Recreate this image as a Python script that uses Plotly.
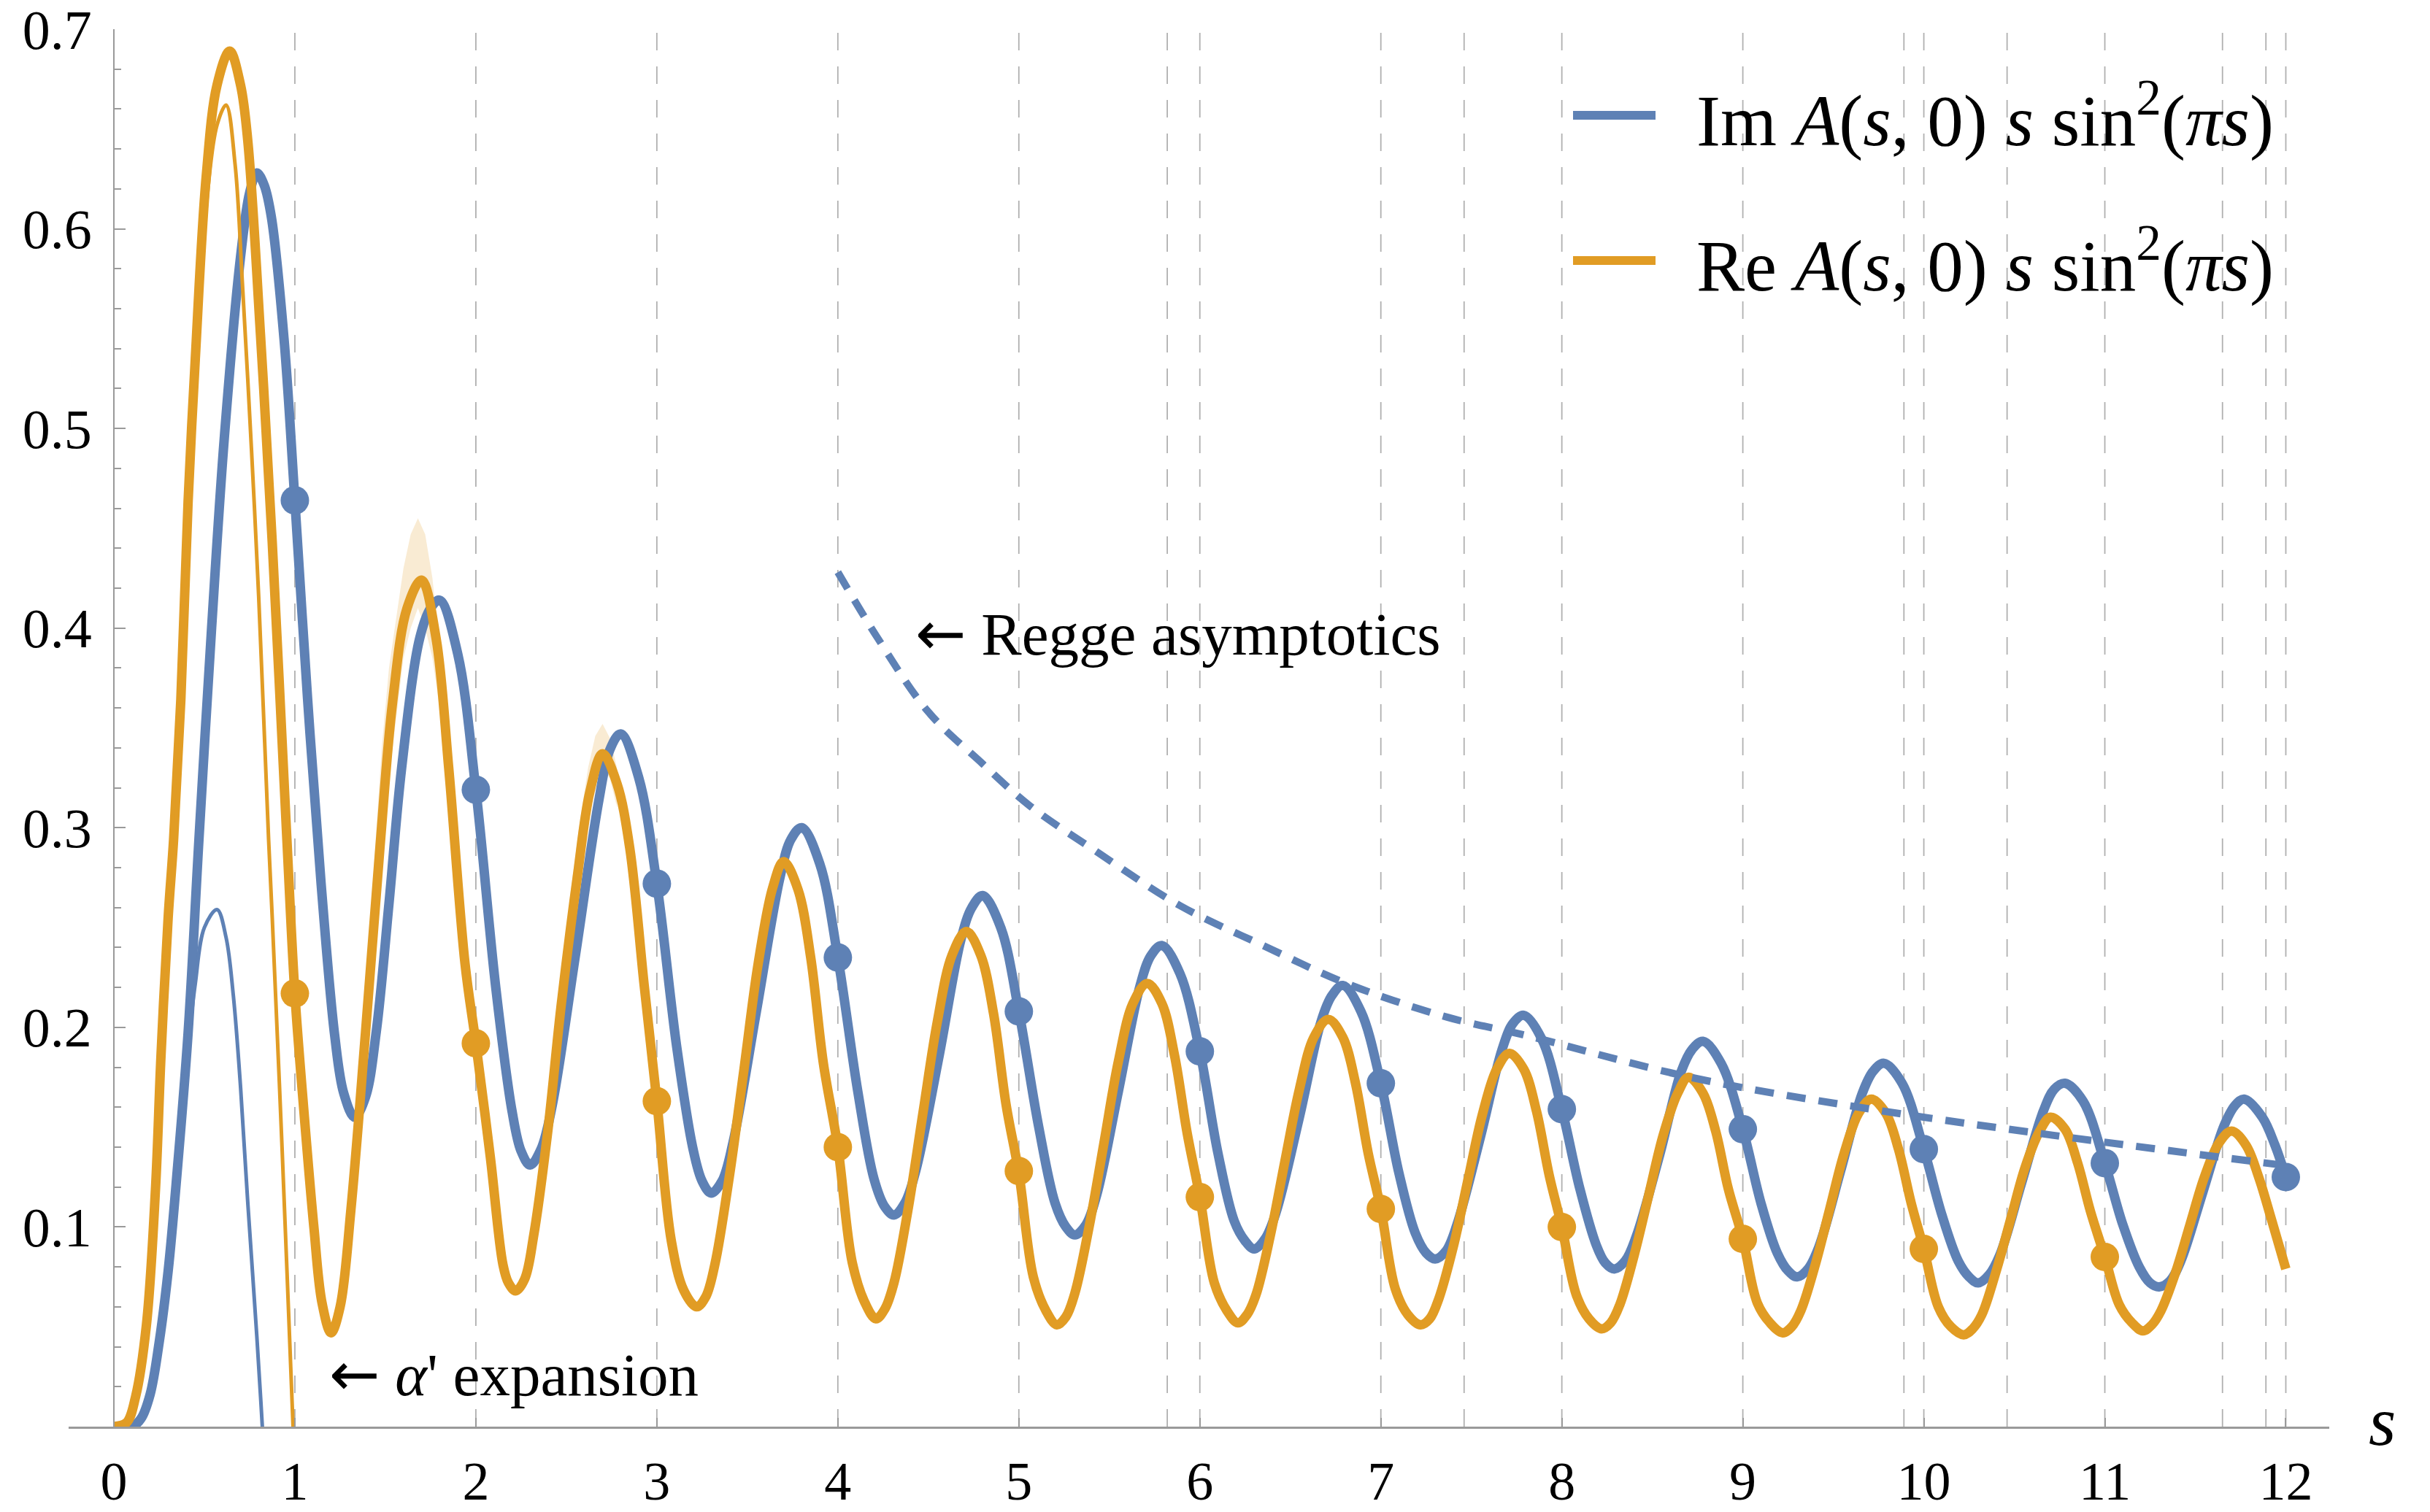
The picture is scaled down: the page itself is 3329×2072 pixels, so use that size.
import plotly.graph_objects as go

BLUE = "#5E81B5"
ORANGE = "#E19C24"
BAND = "rgba(225,156,36,0.20)"
AXIS = "#9a9a9a"
GRID = "#b0b0b0"
FONT = "Liberation Serif, Times New Roman, DejaVu Serif, serif"

# ---------------- data ----------------
# Im A(s,0) s sin^2(pi s)
im_s = [0.00, 0.10, 0.15, 0.20, 0.25, 0.30, 0.35, 0.41, 0.47, 0.54, 0.61, 0.70, 0.75, 0.79, 0.83, 0.87, 0.94,
        1.00, 1.07, 1.145, 1.22, 1.27, 1.33, 1.39, 1.45, 1.52, 1.59, 1.69, 1.75, 1.80,
        1.90, 2.00, 2.11, 2.20, 2.25, 2.30, 2.36, 2.42, 2.55, 2.68, 2.74, 2.80,
        2.90, 3.00, 3.11, 3.20, 3.25, 3.30, 3.36, 3.42, 3.55, 3.68, 3.74, 3.80,
        3.90, 4.00, 4.11, 4.20, 4.26, 4.31, 4.37, 4.43, 4.56, 4.68, 4.74, 4.80,
        4.90, 5.00, 5.11, 5.20, 5.26, 5.31, 5.37, 5.43, 5.55, 5.67, 5.73, 5.79,
        5.89, 6.00, 6.10, 6.19, 6.25, 6.30, 6.36, 6.42, 6.55, 6.67, 6.73, 6.79,
        6.89, 7.00, 7.10, 7.19, 7.25, 7.30, 7.36, 7.42, 7.55, 7.67, 7.73, 7.79,
        7.89, 8.00, 8.10, 8.19, 8.24, 8.29, 8.35, 8.41, 8.54, 8.66, 8.72, 8.78,
        8.88, 9.00, 9.10, 9.19, 9.25, 9.30, 9.36, 9.42, 9.54, 9.66, 9.72, 9.78,
        9.88, 10.00, 10.10, 10.19, 10.25, 10.30, 10.36, 10.42, 10.54, 10.66, 10.72, 10.78,
        10.88, 11.00, 11.10, 11.19, 11.25, 11.30, 11.36, 11.42, 11.54, 11.66, 11.72, 11.77,
        11.87, 11.94, 12.00]
im_v = [0.000, 0.000, 0.004, 0.016, 0.042, 0.078, 0.128, 0.197, 0.294, 0.400, 0.495, 0.586, 0.618, 0.628, 0.622, 0.606, 0.545,
        0.464, 0.365, 0.272, 0.196, 0.167, 0.155, 0.165, 0.198, 0.262, 0.330, 0.395, 0.410, 0.414,
        0.387, 0.319, 0.220, 0.158, 0.138, 0.131, 0.139, 0.160, 0.236, 0.314, 0.339, 0.347,
        0.325, 0.272, 0.190, 0.139, 0.123, 0.117, 0.123, 0.142, 0.208, 0.275, 0.294, 0.300,
        0.282, 0.235, 0.168, 0.124, 0.110, 0.106, 0.112, 0.128, 0.186, 0.244, 0.260, 0.266,
        0.250, 0.208, 0.150, 0.112, 0.100, 0.096, 0.101, 0.116, 0.168, 0.221, 0.236, 0.241,
        0.227, 0.188, 0.137, 0.103, 0.093, 0.089, 0.094, 0.107, 0.155, 0.203, 0.216, 0.221,
        0.208, 0.172, 0.127, 0.097, 0.087, 0.084, 0.088, 0.101, 0.145, 0.189, 0.202, 0.206,
        0.194, 0.159, 0.119, 0.091, 0.082, 0.079, 0.083, 0.095, 0.136, 0.178, 0.189, 0.193,
        0.182, 0.149, 0.112, 0.087, 0.078, 0.075, 0.079, 0.090, 0.128, 0.167, 0.178, 0.182,
        0.172, 0.139, 0.106, 0.083, 0.075, 0.072, 0.076, 0.086, 0.122, 0.158, 0.169, 0.172,
        0.163, 0.132, 0.101, 0.080, 0.072, 0.070, 0.073, 0.083, 0.117, 0.151, 0.161, 0.164,
        0.155, 0.141, 0.125]

# Re A(s,0) s sin^2(pi s)
re_s = [0.00, 0.07, 0.12, 0.18, 0.23, 0.26, 0.30, 0.33, 0.37, 0.41, 0.45, 0.51, 0.57, 0.64, 0.70, 0.74,
        0.81, 0.875, 0.956, 1.00, 1.05, 1.105, 1.15, 1.20, 1.25, 1.31, 1.39, 1.47, 1.54, 1.62, 1.70,
        1.78, 1.85, 1.94, 2.00, 2.08, 2.15, 2.18, 2.22, 2.27, 2.32, 2.40, 2.47, 2.56, 2.63, 2.70,
        2.78, 2.85, 2.93, 3.00, 3.08, 3.15, 3.22, 3.27, 3.32, 3.40, 3.48, 3.56, 3.64, 3.70,
        3.78, 3.85, 3.92, 4.00, 4.08, 4.15, 4.21, 4.26, 4.31, 4.39, 4.47, 4.55, 4.63, 4.71,
        4.79, 4.86, 4.93, 5.00, 5.08, 5.15, 5.21, 5.26, 5.31, 5.39, 5.47, 5.55, 5.63, 5.71,
        5.79, 5.86, 5.93, 6.00, 6.08, 6.15, 6.21, 6.26, 6.31, 6.39, 6.47, 6.55, 6.63, 6.71,
        6.79, 6.86, 6.93, 7.00, 7.08, 7.15, 7.22, 7.27, 7.32, 7.40, 7.48, 7.56, 7.64, 7.71,
        7.79, 7.86, 7.93, 8.00, 8.08, 8.15, 8.22, 8.27, 8.32, 8.40, 8.48, 8.56, 8.64, 8.70,
        8.78, 8.85, 8.92, 9.00, 9.08, 9.15, 9.22, 9.27, 9.32, 9.40, 9.48, 9.56, 9.64, 9.71,
        9.79, 9.86, 9.93, 10.00, 10.08, 10.15, 10.22, 10.27, 10.32, 10.40, 10.48, 10.56, 10.64, 10.70,
        10.78, 10.85, 10.92, 11.00, 11.08, 11.15, 11.21, 11.26, 11.31, 11.39, 11.47, 11.55, 11.63, 11.70,
        11.78, 11.85, 11.92, 12.00]
re_v = [0.000, 0.002, 0.015, 0.051, 0.119, 0.185, 0.255, 0.294, 0.364, 0.463, 0.535, 0.626, 0.672, 0.689, 0.672, 0.644,
        0.547, 0.443, 0.294, 0.217, 0.158, 0.100, 0.062, 0.047, 0.060, 0.109, 0.197, 0.290, 0.363, 0.410, 0.424,
        0.395, 0.330, 0.232, 0.192, 0.135, 0.081, 0.072, 0.068, 0.074, 0.096, 0.150, 0.210, 0.275, 0.318, 0.337,
        0.322, 0.290, 0.221, 0.163, 0.093, 0.068, 0.060, 0.065, 0.081, 0.125, 0.178, 0.232, 0.270, 0.283,
        0.269, 0.235, 0.182, 0.140, 0.082, 0.062, 0.054, 0.059, 0.072, 0.110, 0.157, 0.203, 0.236, 0.248,
        0.236, 0.207, 0.161, 0.127, 0.075, 0.058, 0.051, 0.055, 0.067, 0.101, 0.142, 0.183, 0.212, 0.222,
        0.212, 0.186, 0.147, 0.115, 0.072, 0.058, 0.052, 0.056, 0.066, 0.096, 0.133, 0.169, 0.195, 0.204,
        0.195, 0.172, 0.137, 0.109, 0.069, 0.056, 0.051, 0.054, 0.064, 0.090, 0.123, 0.156, 0.179, 0.187,
        0.179, 0.158, 0.126, 0.100, 0.066, 0.054, 0.049, 0.052, 0.061, 0.086, 0.116, 0.146, 0.167, 0.175,
        0.167, 0.148, 0.119, 0.094, 0.062, 0.052, 0.047, 0.050, 0.058, 0.081, 0.109, 0.137, 0.157, 0.164,
        0.157, 0.139, 0.112, 0.089, 0.060, 0.050, 0.046, 0.049, 0.056, 0.078, 0.104, 0.130, 0.148, 0.155,
        0.149, 0.132, 0.108, 0.085, 0.061, 0.052, 0.048, 0.051, 0.058, 0.077, 0.101, 0.125, 0.142, 0.148,
        0.141, 0.125, 0.104, 0.079]

# uncertainty band of the Re curve (visible near the 2nd and 3rd peaks)
band1_s = [1.40, 1.44, 1.48, 1.52, 1.56, 1.60, 1.64, 1.68, 1.72, 1.76, 1.80]
band1_hi = [0.225, 0.285, 0.340, 0.380, 0.405, 0.430, 0.447, 0.455, 0.447, 0.425, 0.390]
band1_lo = [0.190, 0.235, 0.280, 0.325, 0.355, 0.385, 0.400, 0.410, 0.400, 0.385, 0.360]
band2_s = [2.52, 2.57, 2.62, 2.66, 2.70, 2.74, 2.78]
band2_hi = [0.265, 0.300, 0.330, 0.346, 0.352, 0.345, 0.330]
band2_lo = [0.240, 0.275, 0.310, 0.328, 0.330, 0.325, 0.310]

# alpha' expansion (thin curves)
aim_s = [0.00, 0.10, 0.15, 0.20, 0.25, 0.30, 0.35, 0.41, 0.45, 0.50, 0.57, 0.62, 0.66, 0.70, 0.74, 0.79, 0.83, 0.87]
aim_v = [0.000, 0.000, 0.004, 0.016, 0.042, 0.078, 0.128, 0.190, 0.222, 0.250, 0.259, 0.245, 0.216, 0.170, 0.112,
         0.045, -0.015, -0.080]
are_s = [0.00, 0.07, 0.12, 0.18, 0.23, 0.28, 0.34, 0.40, 0.46, 0.52, 0.57, 0.62, 0.67, 0.71, 0.76, 0.80, 0.855,
         0.875, 0.93, 0.99, 1.03]
are_v = [0.000, 0.002, 0.015, 0.051, 0.119, 0.220, 0.330, 0.440, 0.545, 0.620, 0.652, 0.662, 0.632, 0.573, 0.490,
         0.416, 0.294, 0.255, 0.138, 0.000, -0.090]

# Regge asymptotics (dashed)
regge_s = [4.00, 4.22, 4.50, 4.80, 5.06, 5.43, 5.89, 6.35, 6.81, 7.37, 7.80, 8.71, 9.71, 10.71, 11.98]
regge_v = [0.428, 0.395, 0.358, 0.332, 0.311, 0.288, 0.261, 0.241, 0.222, 0.205, 0.196, 0.175, 0.159, 0.146, 0.131]

# exact points at integer s
im_dot_s = [1, 2, 3, 4, 5, 6, 7, 8, 9, 10, 11, 12]
im_dot_v = [0.464, 0.319, 0.272, 0.235, 0.208, 0.188, 0.172, 0.159, 0.149, 0.139, 0.132, 0.125]
re_dot_s = [1, 2, 3, 4, 5, 6, 7, 8, 9, 10, 11]
re_dot_v = [0.217, 0.192, 0.163, 0.140, 0.128, 0.115, 0.109, 0.100, 0.094, 0.089, 0.085]

# vertical dashed reference lines
grid_s = [1, 2, 3, 4, 5, 5.82, 6, 7, 7.46, 8, 9, 9.89, 10, 10.46, 11, 11.65, 11.89, 12]

x_ticks = list(range(13))
y_ticks = [0.1, 0.2, 0.3, 0.4, 0.5, 0.6, 0.7]
x_range = [-0.25, 12.24]
y_range = [0.0, 0.7]

legend_labels = ["Im <i>A</i>(<i>s</i>, 0) <i>s</i> sin<sup>2</sup>(<i>πs</i>)",
                 "Re <i>A</i>(<i>s</i>, 0) <i>s</i> sin<sup>2</sup>(<i>πs</i>)"]
ARROW = "<span style='font-family:DejaVu Sans'>←</span>"

assert len(im_s) == len(im_v) and len(re_s) == len(re_v)
assert len(aim_s) == len(aim_v) and len(are_s) == len(are_v)

# ---------------- figure ----------------
W, H = 3329, 2072
M = dict(l=94, r=138, t=40, b=117)
pw, ph = W - M["l"] - M["r"], H - M["t"] - M["b"]


def px(x):
    return (x - M["l"]) / pw


def py(y):
    return (H - M["b"] - y) / ph


fig = go.Figure()

for bs, bh, bl in [(band1_s, band1_hi, band1_lo), (band2_s, band2_hi, band2_lo)]:
    fig.add_trace(go.Scatter(x=bs + bs[::-1], y=bh + bl[::-1], fill="toself", fillcolor=BAND,
                             line=dict(width=0), mode="lines", hoverinfo="skip"))

fig.add_trace(go.Scatter(x=im_s, y=im_v, mode="lines", line=dict(color=BLUE, width=13, shape="spline")))
fig.add_trace(go.Scatter(x=aim_s, y=aim_v, mode="lines", line=dict(color=BLUE, width=5, shape="spline")))
fig.add_trace(go.Scatter(x=re_s, y=re_v, mode="lines", line=dict(color=ORANGE, width=13, shape="spline")))
fig.add_trace(go.Scatter(x=are_s, y=are_v, mode="lines", line=dict(color=ORANGE, width=5, shape="spline")))
fig.add_trace(go.Scatter(x=regge_s, y=regge_v, mode="lines",
                         line=dict(color=BLUE, width=10, dash="26px,18px", shape="spline")))
fig.add_trace(go.Scatter(x=im_dot_s, y=im_dot_v, mode="markers", marker=dict(color=BLUE, size=39)))
fig.add_trace(go.Scatter(x=re_dot_s, y=re_dot_v, mode="markers", marker=dict(color=ORANGE, size=39)))

for g in grid_s:
    fig.add_shape(type="line", xref="x", yref="y", x0=g, x1=g, y0=y_range[0], y1=y_range[1],
                  line=dict(color=GRID, width=1.8, dash="24px,22px"), layer="below")

# legend (drawn manually to match the long line samples)
for i, (lab, col) in enumerate(zip(legend_labels, [BLUE, ORANGE])):
    yy = py(158 + i * 199)
    fig.add_shape(type="line", xref="paper", yref="paper", x0=px(2155), x1=px(2268), y0=yy, y1=yy,
                  line=dict(color=col, width=12))
    fig.add_annotation(xref="paper", yref="paper", x=px(2322), y=yy, text=lab, showarrow=False,
                       xanchor="left", yanchor="middle", font=dict(family=FONT, size=99, color="black"))

fig.add_annotation(xref="x", yref="y", x=4.42, y=0.397, text=ARROW + " Regge asymptotics", showarrow=False,
                   xanchor="left", yanchor="middle", font=dict(family=FONT, size=83, color="black"))
fig.add_annotation(xref="x", yref="y", x=1.18, y=0.026, text=ARROW + " <i>α</i>' expansion", showarrow=False,
                   xanchor="left", yanchor="middle", font=dict(family=FONT, size=83, color="black"))
fig.add_annotation(xref="paper", yref="paper", x=px(3263), y=py(1947), text="<i>s</i>", showarrow=False,
                   xanchor="center", yanchor="middle", font=dict(family=FONT, size=96, color="black"))

fig.update_layout(
    width=W, height=H, margin=M, showlegend=False,
    plot_bgcolor="white", paper_bgcolor="white",
    font=dict(family=FONT, size=76, color="black"),
)
fig.update_xaxes(
    range=x_range, showgrid=False, zeroline=False, showline=True, linecolor=AXIS, linewidth=3,
    tickmode="array", tickvals=x_ticks, ticks="inside", ticklen=12, tickwidth=2, tickcolor=AXIS,
    ticklabelstandoff=8, tickfont=dict(family=FONT, size=74, color="black"), automargin=False,
    ticklabeloverflow="allow",
)
fig.update_yaxes(
    range=y_range, showgrid=False, zeroline=False, showline=True, linecolor=AXIS, linewidth=2,
    anchor="free", position=(0 - x_range[0]) / (x_range[1] - x_range[0]),
    tickmode="array", tickvals=y_ticks, ticks="inside", ticklen=15, tickwidth=2, tickcolor=AXIS,
    minor=dict(dtick=0.02, ticks="inside", ticklen=9, tickwidth=1.5, tickcolor=AXIS),
    ticklabelstandoff=14, tickfont=dict(family=FONT, size=76, color="black"), automargin=False,
    ticklabeloverflow="allow",
)

fig.write_html("out.html")
